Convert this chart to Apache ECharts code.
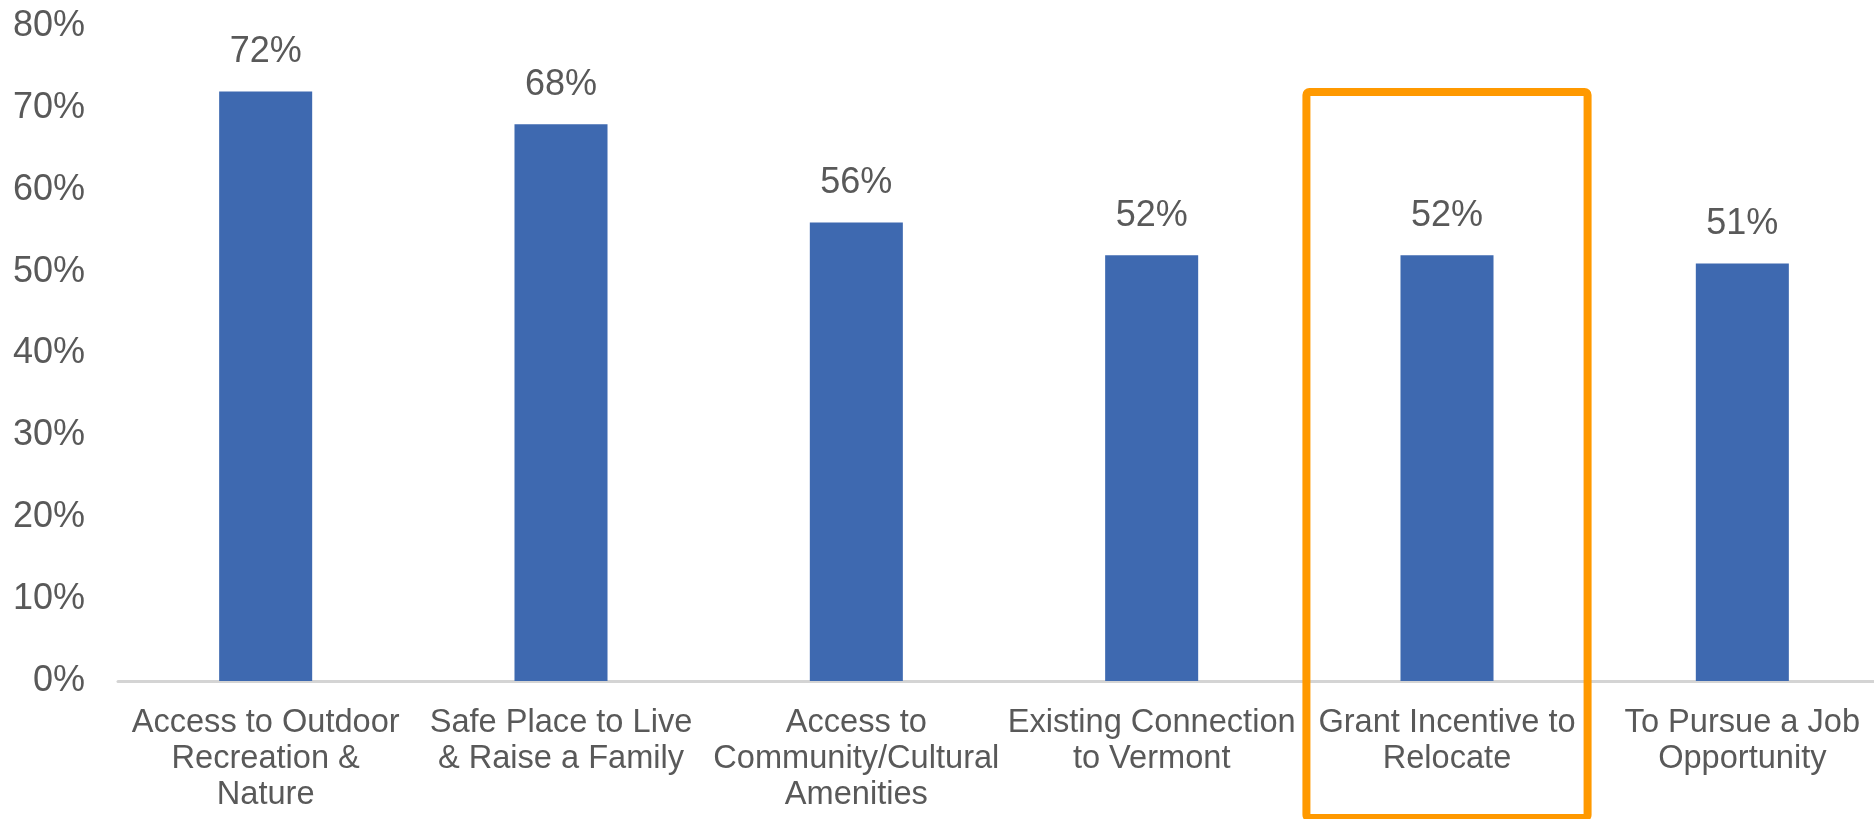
<!DOCTYPE html>
<html>
<head>
<meta charset="utf-8">
<script src="https://cdn.jsdelivr.net/npm/echarts@6/dist/echarts.min.js"></script>
<style>
  html, body { margin: 0; padding: 0; background: #fff; }
  #chart { width: 1874px; height: 819px; }
</style>
</head>
<body>
<div id="chart"></div>
<script>
// reasons for moving, share of respondents
const categories = [
  'Access to Outdoor\nRecreation &\nNature',
  'Safe Place to Live\n& Raise a Family',
  'Access to\nCommunity/Cultural\nAmenities',
  'Existing Connection\nto Vermont',
  'Grant Incentive to\nRelocate',
  'To Pursue a Job\nOpportunity'
];
const shares = [72, 68, 56, 52, 52, 51];
const highlighted = 4; // boxed in orange

const font = '"Liberation Sans", Arial, sans-serif';
const textColor = '#595959';

const chart = echarts.init(document.getElementById('chart'), null, { renderer: 'canvas' });

chart.setOption({
  animation: false,
  grid: {
    left: 118, top: 26, width: 1772, height: 655,
    containLabel: false,
    outerBoundsMode: 'none'
  },
  xAxis: {
    type: 'category',
    data: categories,
    axisLine: { lineStyle: { color: '#d4d4d4', width: 3 } },
    axisTick: { show: false },
    axisLabel: {
      interval: 0,
      margin: 24,
      color: textColor,
      fontFamily: font,
      fontSize: 32.6,
      lineHeight: 36
    }
  },
  yAxis: {
    type: 'value',
    min: 0,
    max: 80,
    interval: 10,
    splitLine: { show: false },
    axisLine: { show: false },
    axisTick: { show: false },
    axisLabel: {
      formatter: '{value}%',
      margin: 33,
      color: textColor,
      fontFamily: font,
      fontSize: 36
    }
  },
  series: [{
    type: 'bar',
    data: shares,
    barWidth: '31.5%',
    itemStyle: { color: '#3e69b0' },
    label: {
      show: true,
      position: 'top',
      distance: 21,
      formatter: '{c}%',
      color: textColor,
      fontFamily: font,
      fontSize: 36
    }
  }]
});

// orange highlight box around one category
function drawBox() {
  const c0 = chart.convertToPixel({ xAxisIndex: 0 }, categories[0]);
  const c1 = chart.convertToPixel({ xAxisIndex: 0 }, categories[1]);
  const band = c1 - c0;
  const cx = chart.convertToPixel({ xAxisIndex: 0 }, categories[highlighted]);
  const half = band * 0.476;
  chart.setOption({
    graphic: [{
      type: 'rect',
      shape: { x: cx - half, y: 92, width: half * 2, height: 726, r: 3 },
      style: { fill: 'none', stroke: '#ff9900', lineWidth: 8 },
      z: 100
    }]
  });
}
drawBox();
</script>
</body>
</html>
